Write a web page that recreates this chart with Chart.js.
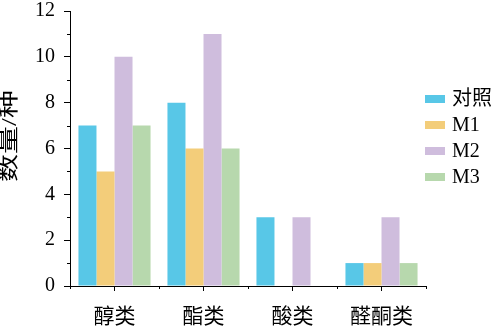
<!DOCTYPE html>
<html><head><meta charset="utf-8">
<script src="https://cdn.jsdelivr.net/npm/chart.js@4"></script>
<style>html,body{margin:0;padding:0;background:#fff}#wrap{width:494px;height:327px}</style>
</head><body><div id="wrap"><canvas id="c" width="494" height="327"></canvas></div>
<script>
const categories = ["醇类", "酯类", "酸类", "醛酮类"];
const seriesNames = ["对照", "M1", "M2", "M3"];
const controlValues = [7, 8, 3, 1];
const m1Values = [5, 6, 0, 1];
const m2Values = [10, 11, 3, 3];
const m3Values = [7, 6, 0, 1];
const yTicks = [0, 2, 4, 6, 8, 10, 12];
const yTitle = "数量/种";
const colors = ["#58C7E7", "#F3CD7A", "#CFBDDD", "#B7D8AD"];
const FONT = '"Liberation Serif", "Times New Roman", "Noto Sans CJK SC", serif';

const extras = {
  id: 'extras',
  afterDraw(chart) {
    const ctx = chart.ctx, y = chart.scales.y, x = chart.scales.x;
    ctx.save();
    ctx.strokeStyle = '#000'; ctx.lineWidth = 1;
    for (let v = 1; v < 12; v += 2) {
      const py = Math.round(y.getPixelForValue(v)) + 0.5;
      ctx.beginPath(); ctx.moveTo(chart.chartArea.left - 3, py); ctx.lineTo(chart.chartArea.left, py); ctx.stroke();
    }
    const n = categories.length;
    for (let i = 0; i <= n; i++) {
      const px = Math.round(x.getPixelForValue(i - 0.5)) + 0.5;
      const py = chart.chartArea.bottom;
      ctx.beginPath(); ctx.moveTo(px, py); ctx.lineTo(px, py + 3); ctx.stroke();
    }
    // y title
    ctx.save();
    ctx.translate(11, 136);
    ctx.rotate(-Math.PI / 2);
    ctx.scale(1.4, 1);
    ctx.font = '20px ' + FONT;
    ctx.fillStyle = '#000';
    ctx.textAlign = 'center'; ctx.textBaseline = 'middle';
    ctx.fillText(yTitle, 0, 0);
    ctx.restore();
    // legend
    ctx.font = '20px ' + FONT;
    ctx.textBaseline = 'middle'; ctx.textAlign = 'left';
    chart.data.datasets.forEach((ds, i) => {
      const cy = 99 + i * 26;
      ctx.fillStyle = ds.backgroundColor;
      ctx.fillRect(425, cy - 4, 20, 8);
      ctx.fillStyle = '#000';
      ctx.fillText(ds.label, 452, cy + 1);
    });
    ctx.restore();
  }
};

new Chart(document.getElementById('c'), {
  type: 'bar',
  data: {
    labels: categories,
    datasets: [
      { label: seriesNames[0], data: controlValues, backgroundColor: colors[0] },
      { label: seriesNames[1], data: m1Values, backgroundColor: colors[1] },
      { label: seriesNames[2], data: m2Values, backgroundColor: colors[2] },
      { label: seriesNames[3], data: m3Values, backgroundColor: colors[3] }
    ]
  },
  options: {
    responsive: false,
    animation: false,
    layout: { padding: { top: 0, right: 68, left: 0, bottom: 0 } },
    datasets: { bar: { barPercentage: 1, categoryPercentage: 0.81, borderWidth: 0 } },
    plugins: { legend: { display: false }, tooltip: { enabled: false } },
    scales: {
      x: {
        grid: { display: true, drawOnChartArea: false, offset: false, tickLength: 5, color: '#000' },
        border: { display: true, color: '#000', width: 1 },
        ticks: { color: '#000', font: { family: FONT, size: 21 }, padding: 14, maxRotation: 0 },
        afterFit(s) { s.height = 41; s.paddingLeft = 0; s.paddingRight = 0; }
      },
      y: {
        min: 0, max: 12,
        afterBuildTicks(s) { s.ticks = yTicks.map(v => ({ value: v })); },
        grid: { display: true, drawOnChartArea: false, tickLength: 6, color: '#000' },
        border: { display: true, color: '#000', width: 1 },
        ticks: { color: '#000', font: { family: FONT, size: 20 }, padding: 9 },
        title: { display: false },
        afterFit(s) { s.width = 70; s.paddingTop = 11; s.paddingBottom = 0; }
      }
    }
  },
  plugins: [extras]
});
</script></body></html>
